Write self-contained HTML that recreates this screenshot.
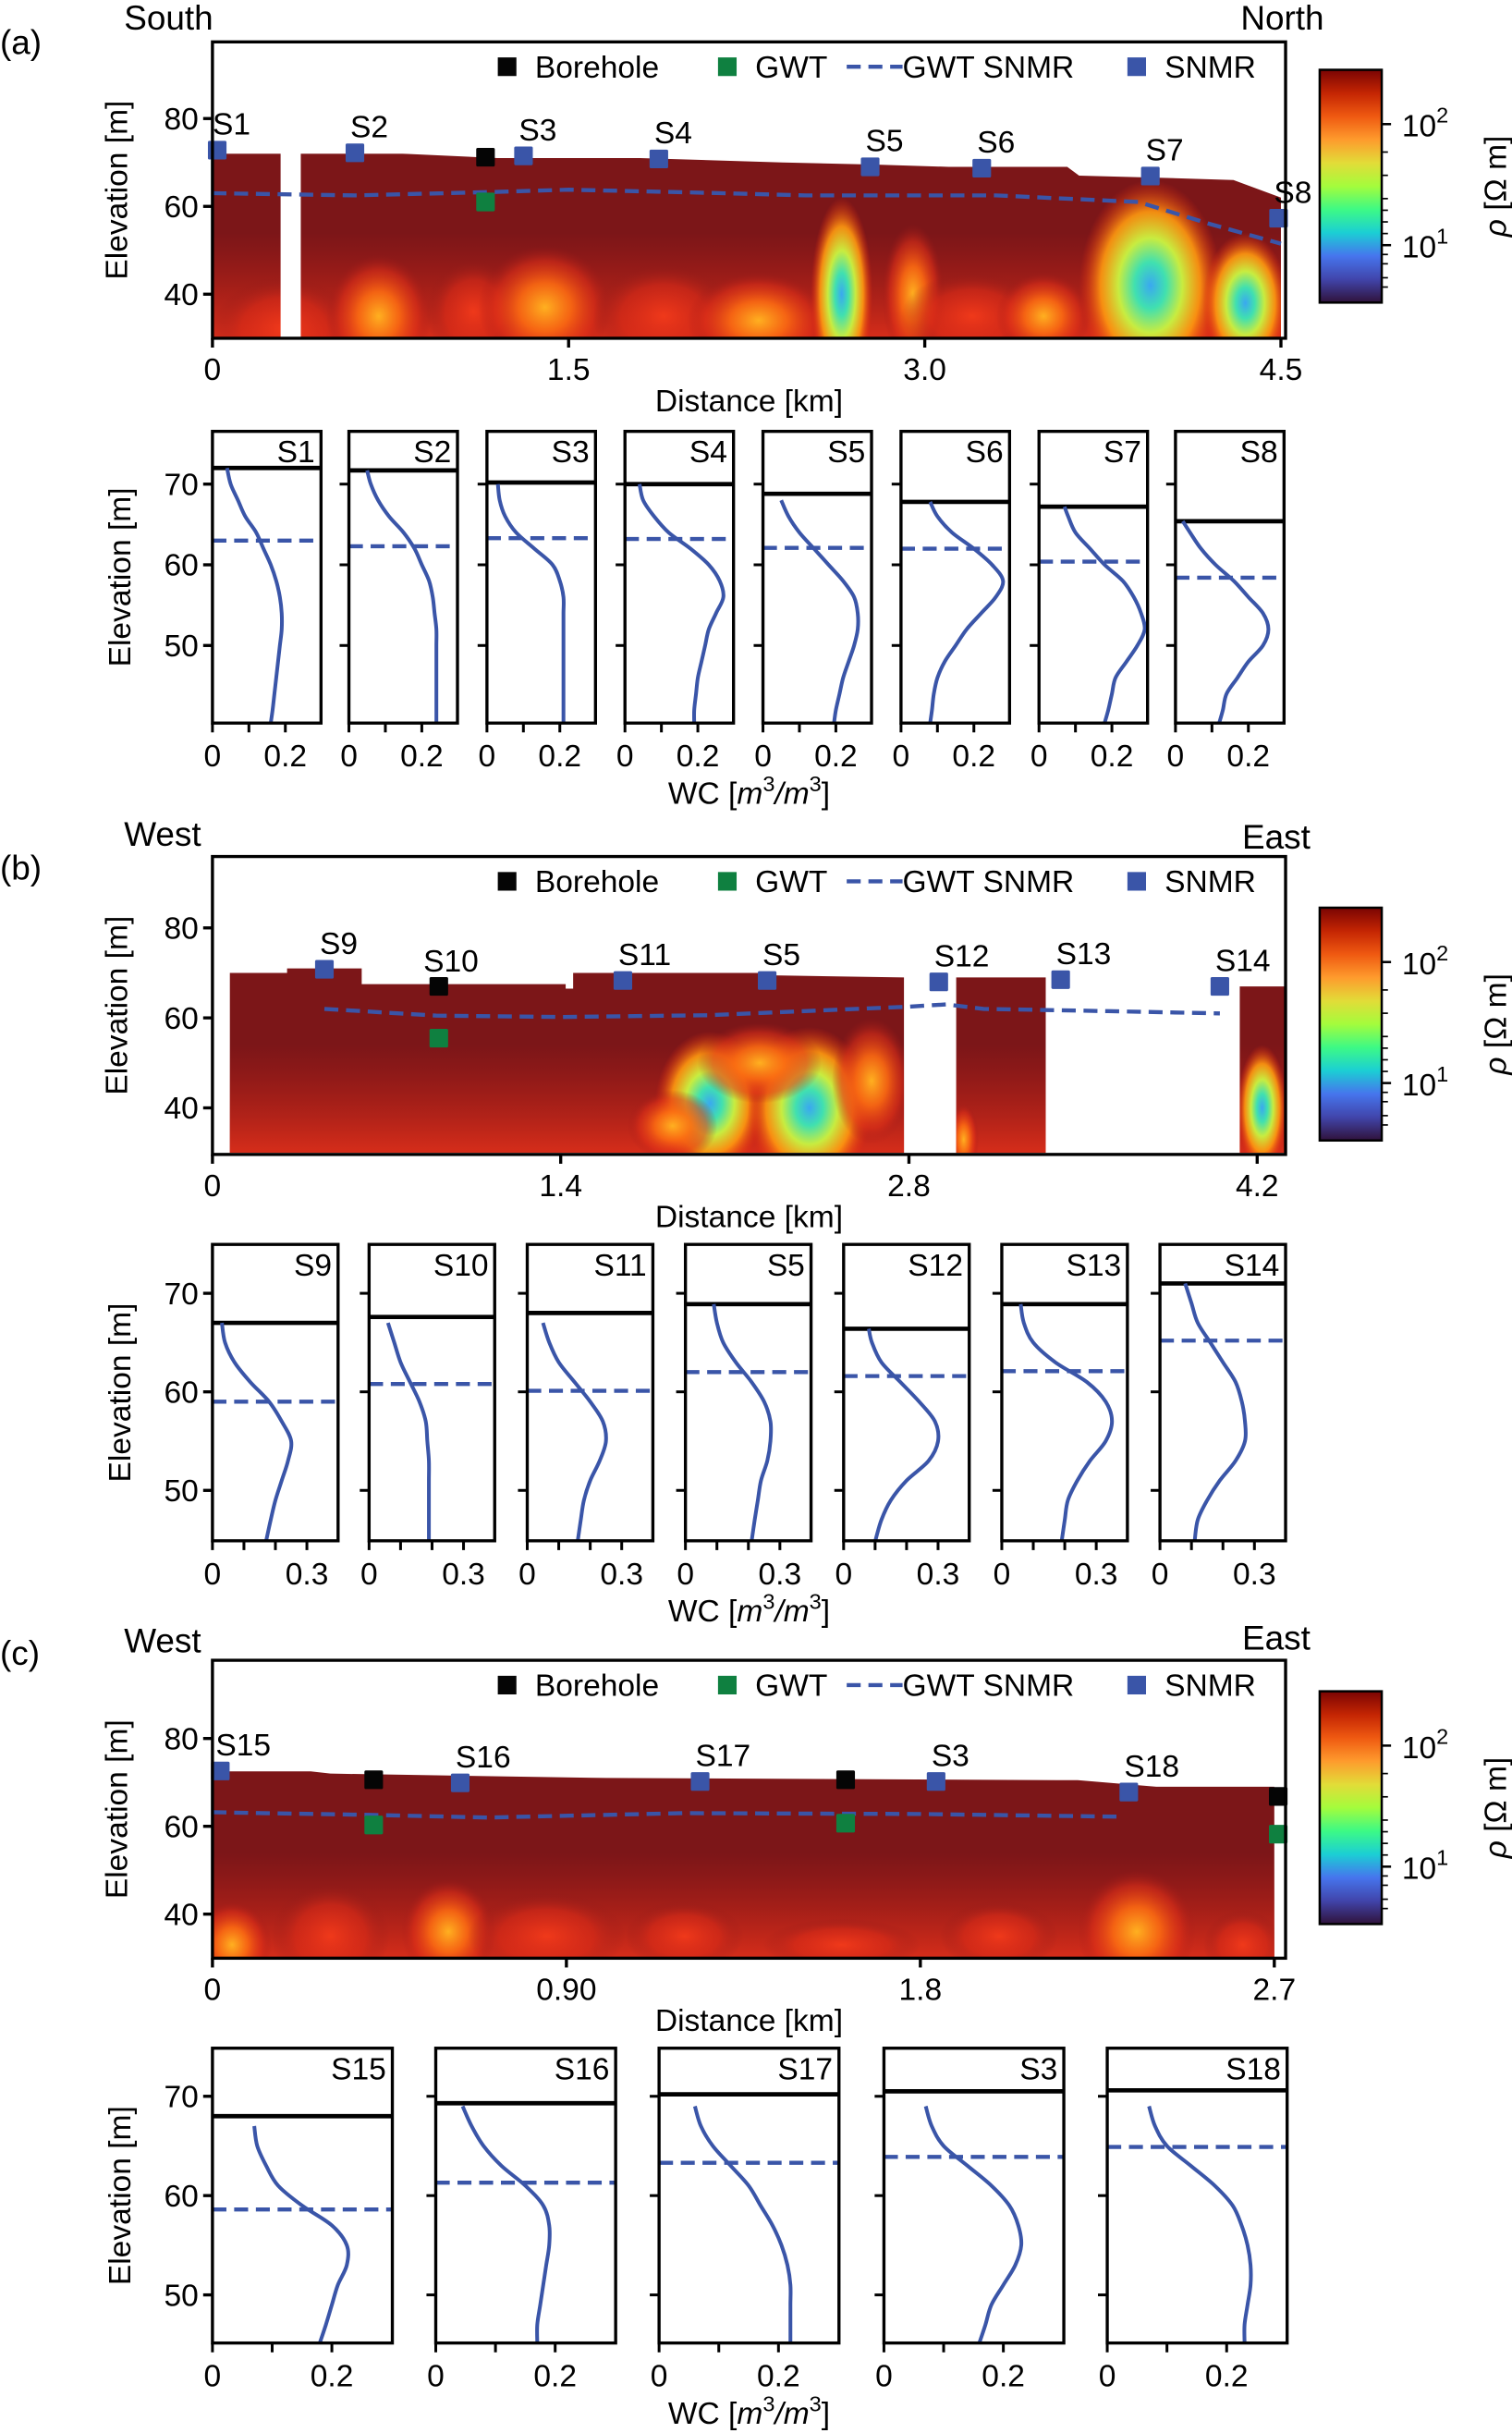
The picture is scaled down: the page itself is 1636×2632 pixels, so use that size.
<!DOCTYPE html>
<html><head><meta charset="utf-8"><style>
html,body{margin:0;padding:0;background:#fff}
svg{display:block;font-family:"Liberation Sans","DejaVu Sans",sans-serif}
</style></head><body>
<svg id="fig" xmlns="http://www.w3.org/2000/svg" width="1636" height="2632" viewBox="0 0 975 1568" preserveAspectRatio="none">
<defs>
<radialGradient id="gr"><stop offset="0" stop-color="#f23a1a" stop-opacity="0.95"/><stop offset="0.6" stop-color="#d82a18" stop-opacity="0.6"/><stop offset="1" stop-color="#8a1a1a" stop-opacity="0"/></radialGradient>
<radialGradient id="go"><stop offset="0" stop-color="#ffb020"/><stop offset="0.4" stop-color="#fb6a12" stop-opacity="0.9"/><stop offset="0.75" stop-color="#e03018" stop-opacity="0.55"/><stop offset="1" stop-color="#a01818" stop-opacity="0"/></radialGradient>
<radialGradient id="gc"><stop offset="0" stop-color="#3aa8f0"/><stop offset="0.22" stop-color="#40e0b0"/><stop offset="0.45" stop-color="#c8ec40"/><stop offset="0.7" stop-color="#ff9a10" stop-opacity="0.9"/><stop offset="1" stop-color="#f02a10" stop-opacity="0"/></radialGradient>
<linearGradient id="band" x1="0" y1="0" x2="0" y2="1"><stop offset="0" stop-color="#c02018" stop-opacity="0"/><stop offset="1" stop-color="#e0301a" stop-opacity="0.9"/></linearGradient>
<linearGradient id="cmap" x1="0" y1="1" x2="0" y2="0">
<stop offset="0" stop-color="#30123b"/><stop offset="0.1" stop-color="#4145ab"/><stop offset="0.2" stop-color="#4675ed"/><stop offset="0.3" stop-color="#1bcfd4"/><stop offset="0.4" stop-color="#3dfa85"/><stop offset="0.5" stop-color="#a4fc3c"/><stop offset="0.6" stop-color="#e2dc38"/><stop offset="0.7" stop-color="#fe9b2d"/><stop offset="0.8" stop-color="#ef5911"/><stop offset="0.9" stop-color="#c42503"/><stop offset="1" stop-color="#7a0403"/>
</linearGradient>
</defs>
</svg>
<script>
// ---------- DATA ----------
const surfA_d=[0,0.8,1.2,1.8,2.4,2.8,3.1,3.6,3.65,4.0,4.3,4.5];
const surfA_e=[72,72,71,71,70,69.5,69,69,67,66.5,66,62];
const gapA=[[0.287,0.372]];
const blobsA=[[0.3,32,0.3,12,'r'],[0.7,35,0.22,14,'o'],[1.1,36,0.2,12,'r'],[1.4,37,0.28,14,'o'],[1.9,35,0.3,12,'r'],[2.3,34,0.3,11,'o'],[2.65,40,0.13,22,'c'],[2.95,40,0.13,16,'o'],[3.2,35,0.3,10,'r'],[3.5,35,0.2,10,'o'],[3.95,42,0.3,24,'c'],[4.35,38,0.18,16,'c']];
const snmrA=[['S1',0.02,72.8],['S2',0.6,72.2],['S3',1.31,71.5],['S4',1.88,70.8],['S5',2.77,69],['S6',3.24,68.7],['S7',3.95,66.9],['S8',4.49,57.3]];
const boreA=[[1.15,71.2]];const gwtA=[[1.15,61]];
const gwtsA_d=[0,0.6,1.2,1.5,2.0,2.5,3.3,3.9,4.2,4.5];
const gwtsA_e=[63,62.5,63.3,63.8,63.2,62.5,62.5,61,56,51.5];

const segsB=[[[0.07,70],[0.3,70],[0.3,71],[0.6,71],[0.6,67.5],[1.42,67.5],[1.42,66.5],[1.45,66.5],[1.45,70],[2.2,70],[2.2,69.5],[2.78,69]],[[2.99,69],[3.35,69]],[[4.13,67],[4.33,67]]];
const blobsB=[[2.0,41,0.22,16,'c'],[2.4,40,0.25,18,'c'],[2.2,50,0.25,9,'o'],[2.65,46,0.16,14,'o'],[1.85,36,0.18,8,'o'],[3.02,33,0.06,8,'o'],[4.22,40,0.1,14,'c']];
const snmrB=[['S9',0.45,70.8],['S11',1.65,68.3],['S5',2.23,68.3],['S12',2.92,68],['S13',3.41,68.5],['S14',4.05,67]];
const boreB=[[0.91,67]];const gwtB=[[0.91,55.5]];
const gwtsB_d=[0.45,0.9,1.4,2.0,2.8,2.95,3.1,3.6,4.05];
const gwtsB_e=[62,60.5,60.2,60.6,62.5,63,62,61.5,61];

const surfC_d=[0,0.25,0.3,1.0,2.2,2.4,2.7];
const surfC_e=[72.5,72.5,72,71,70.5,69,69];
const blobsC=[[0.05,33,0.1,10,'o'],[0.3,35,0.15,12,'r'],[0.6,36,0.12,12,'o'],[0.85,35,0.2,10,'r'],[1.2,35,0.15,8,'r'],[1.6,33,0.2,6,'r'],[2.0,35,0.15,8,'r'],[2.35,36,0.15,14,'o'],[2.62,33,0.1,8,'r']];
const snmrC=[['S15',0.02,72.6],['S16',0.63,69.9],['S17',1.24,70.2],['S3',1.84,70.2],['S18',2.33,67.8]];
const boreC=[[0.41,70.6],[1.61,70.6],[2.71,66.8]];const gwtC=[[0.41,60.3],[1.61,60.7],[2.71,58.2]];
const gwtsC_d=[0,0.4,0.7,1.2,1.8,2.3];
const gwtsC_e=[63.2,62.6,62,63,62.8,62.2];

const elevA=[72,70,68,66,64,62,60,58,56,54,52,50,48,46,44,42,40.4];
const namesA=['S1','S2','S3','S4','S5','S6','S7','S8'];
const surfPA=[72,71.7,70.2,70,68.8,67.8,67.2,65.4];
const gwtPA=[63,62.3,63.3,63.2,62.1,62,60.4,58.4];
const wcA=[
[.04,.05,.07,.09,.12,.14,.16,.175,.185,.19,.19,.185,.18,.175,.17,.165,.16],
[.05,.06,.08,.11,.15,.18,.2,.22,.23,.235,.24,.24,.24,.24,.24,.24,.24],
[null,.03,.035,.05,.08,.13,.18,.2,.21,.21,.21,.21,.21,.21,.21,.21,.21],
[null,.04,.05,.08,.12,.18,.23,.26,.27,.25,.23,.22,.21,.2,.195,.19,.19],
[null,null,.05,.07,.1,.14,.18,.22,.25,.26,.26,.25,.235,.22,.21,.2,.195],
[null,null,.08,.1,.14,.2,.25,.28,.26,.22,.18,.15,.12,.1,.09,.085,.08],
[null,null,.07,.08,.1,.14,.18,.23,.26,.28,.29,.27,.24,.21,.2,.19,.18],
[null,null,null,.02,.04,.07,.11,.16,.2,.24,.255,.24,.2,.17,.14,.13,.12]];

const elevB=[71,69,67,65,63,61,59,57,55,53,51,49,47,44.8];
const namesB=['S9','S10','S11','S5','S12','S13','S14'];
const surfPB=[67,67.6,68,68.9,66.4,68.9,71];
const gwtPB=[59,60.8,60.1,62,61.6,62.1,65.2];
const wcB=[
[null,null,.03,.04,.07,.12,.18,.22,.25,.24,.22,.2,.185,.17],
[null,null,.06,.08,.1,.13,.16,.18,.185,.19,.19,.19,.19,.19],
[null,null,.05,.07,.1,.15,.2,.24,.25,.23,.2,.18,.17,.16],
[null,.09,.1,.12,.16,.21,.25,.27,.27,.26,.24,.23,.22,.21],
[null,null,.08,.09,.12,.18,.24,.29,.3,.27,.2,.15,.12,.1],
[null,.06,.07,.1,.17,.27,.33,.35,.33,.28,.24,.21,.2,.19],
[.08,.1,.12,.16,.2,.24,.26,.27,.27,.24,.19,.15,.12,.11]];

const elevC=[71,69,67,65,63,61,59,57,55,53,51,49,47,45.2];
const namesC=['S15','S16','S17','S3','S18'];
const surfPC=[68,69.3,70.2,70.5,70.6];
const gwtPC=[58.6,61.3,63.3,63.9,64.9];
const wcC=[
[null,null,.07,.075,.09,.11,.15,.2,.225,.225,.21,.2,.19,.18],
[null,.045,.06,.08,.11,.15,.18,.19,.19,.185,.18,.175,.17,.17],
[null,.06,.07,.09,.12,.15,.17,.19,.205,.215,.22,.22,.22,.22],
[null,.07,.08,.1,.14,.18,.21,.225,.23,.22,.2,.18,.17,.16],
[null,.07,.08,.1,.14,.18,.21,.225,.235,.24,.24,.235,.23,.23]];

// ---------- helpers ----------
const NS='http://www.w3.org/2000/svg';
const fig=document.getElementById('fig');
function mk(tag,attrs,parent){const e=document.createElementNS(NS,tag);for(const k in attrs)e.setAttribute(k,attrs[k]);(parent||fig).appendChild(e);return e;}
function txt(s,x,y,size,anchor,parent,extra){const t=mk('text',Object.assign({x:x,y:y,'font-size':size,'text-anchor':anchor||'start',fill:'#000'},extra||{}),parent);t.textContent=s;return t;}

function mainPanel(o){
  const g=mk('g',{});
  
  
  const X=o.X,Y=o.Y;
  const cid='clip'+o.id;
  const cp=mk('clipPath',{id:cid},g);
  o.segs.forEach(seg=>{
    let d='M'+X(seg[0][0])+','+Y(30);
    seg.forEach(p=>{d+=' L'+X(p[0])+','+Y(p[1]);});
    d+=' L'+X(seg[seg.length-1][0])+','+Y(30)+' Z';
    mk('path',{d:d},cp);
  });
  const hg=mk('g',{'clip-path':'url(#'+cid+')'},g);
  
  
  mk('rect',{x:o.x0,y:o.y0,width:o.x1-o.x0,height:o.y1-o.y0,fill:'#7c1618'},hg);
  mk('rect',{x:o.x0,y:Y(54),width:o.x1-o.x0,height:Y(30)-Y(54),fill:'url(#band)'},hg);
  o.blobs.forEach(b=>{
    const e=mk('ellipse',{cx:X(b[0]),cy:Y(b[1]),rx:X(b[2])-X(0),ry:Y(0)-Y(b[3]),fill:'url(#g'+b[4]+')'},hg);
    
    
  });
  (o.gaps||[]).forEach(gp=>{mk('rect',{x:X(gp[0]),y:o.y0,width:X(gp[1])-X(gp[0]),height:o.y1-o.y0,fill:'#fff'},g);});
  let d='';o.gd.forEach((v,i)=>{d+=(i?' L':'M')+X(v)+','+Y(o.ge[i]);});
  const gl=mk('path',{d:d,fill:'none',stroke:'#3a55a8','stroke-width':2.6,'stroke-dasharray':'9,5'},g);
  
  
  o.bore.forEach(b=>{const r=mk('rect',{x:X(b[0])-6,y:Y(b[1])-6,width:12,height:12,fill:'#050505',rx:1},g);
    
    });
  o.gwt.forEach(b=>{const r=mk('rect',{x:X(b[0])-6,y:Y(b[1])-6,width:12,height:12,fill:'#0f8040',rx:1},g);
    
    });
  o.snmr.forEach(s=>{const r=mk('rect',{x:X(s[1])-6,y:Y(s[2])-6,width:12,height:12,fill:'#3a55a8',rx:1},g);
    
    
    const t=txt(s[0],X(s[1])-3,Y(s[2])-10,20,'start',g);
    
    });
  const fr=mk('rect',{x:o.x0,y:o.y0,width:o.x1-o.x0,height:o.y1-o.y0,fill:'none',stroke:'#000','stroke-width':2},g);
  
  
  o.yt.forEach(v=>{mk('line',{x1:o.x0-6,x2:o.x0,y1:Y(v),y2:Y(v),stroke:'#000','stroke-width':2},g);
    const t=txt(String(v),o.x0-9,Y(v)+7,20,'end',g);
    
    });
  o.xt.forEach((v,i)=>{mk('line',{x1:X(v),x2:X(v),y1:o.y1,y2:o.y1+6,stroke:'#000','stroke-width':2},g);
    const t=txt(o.xl[i],X(v),o.y1+27,20,'middle',g);
    
    });
  const xl=txt('Distance [km]',483,o.y1+47,20,'middle',g);
  
  
  const yl=txt('Elevation [m]',0,0,20,'middle',g,{transform:'translate(82,'+((o.y0+o.y1)/2)+') rotate(-90)'});
  
  
  const lg=mk('g',{},g);
  
  
  const ly=o.y0+16;
  mk('rect',{x:321,y:ly-6,width:12,height:12,fill:'#050505'},lg);txt('Borehole',345,ly+7,20,'start',lg);
  mk('rect',{x:463,y:ly-6,width:12,height:12,fill:'#0f8040'},lg);txt('GWT',487,ly+7,20,'start',lg);
  mk('line',{x1:546,x2:582,y1:ly,y2:ly,stroke:'#3a55a8','stroke-width':2.6,'stroke-dasharray':'9,5'},lg);txt('GWT SNMR',582,ly+7,20,'start',lg);
  mk('rect',{x:727,y:ly-6,width:12,height:12,fill:'#3a55a8'},lg);txt('SNMR',751,ly+7,20,'start',lg);
  const cb=mk('g',{},g);
  
  
  mk('rect',{x:851,y:o.cb,width:40,height:150,fill:'url(#cmap)',stroke:'#000','stroke-width':1.5},cb);
  [[o.cb+35,'2'],[o.cb+113,'1']].forEach(p=>{mk('line',{x1:891,x2:897,y1:p[0],y2:p[0],stroke:'#000','stroke-width':1.5},cb);
    const t=txt('10',904,p[0]+8,20,'start',cb);const s=mk('tspan',{dy:-9,'font-size':14},t);s.textContent=p[1];});
  [0.1,0.2,0.35,0.45,0.55,0.6,0.65,0.7,0.8,0.9].forEach(f=>{const yy=o.cb+113+(f<0.5?f*60:-(f-0.5)*150);mk('line',{x1:891,x2:895,y1:yy,y2:yy,stroke:'#000','stroke-width':1},cb);});
  const rl=txt('',0,0,20,'middle',cb,{transform:'translate(971,'+(o.cb+75)+') rotate(-90)'});
  const r1=mk('tspan',{'font-style':'italic'},rl);r1.textContent='ρ';
  const r2=mk('tspan',{},rl);r2.textContent=' [Ω m]';
}

function profiles(o){
  const g=mk('g',{});
  
  
  o.names.forEach((nm,i)=>{
    const x0=o.x0[i],x1=x0+o.w;
    const X=v=>x0+v*o.sx, Y=o.Y;
    const pg=mk('g',{},g);
    
    
    const s=mk('line',{x1:x0,x2:x1,y1:Y(o.surf[i]),y2:Y(o.surf[i]),stroke:'#000','stroke-width':2.8},pg);
    
    
    const gw=mk('line',{x1:x0,x2:x1,y1:Y(o.gwtp[i]),y2:Y(o.gwtp[i]),stroke:'#3a55a8','stroke-width':2.6,'stroke-dasharray':'9,5'},pg);
    
    
    let pts=[];o.wc[i].forEach((v,j)=>{if(v!==null)pts.push([X(v),Y(Math.min(o.elev[j],o.surf[i]))]);});
    let d='M'+pts[0][0]+','+pts[0][1];
    for(let k=0;k<pts.length-1;k++){const p0=pts[Math.max(0,k-1)],p1=pts[k],p2=pts[k+1],p3=pts[Math.min(pts.length-1,k+2)];
      d+=' C'+(p1[0]+(p2[0]-p0[0])/6)+','+(p1[1]+(p2[1]-p0[1])/6)+' '+(p2[0]-(p3[0]-p1[0])/6)+','+(p2[1]-(p3[1]-p1[1])/6)+' '+p2[0]+','+p2[1];}
    const c=mk('path',{d:d,fill:'none',stroke:'#3a55a8','stroke-width':2.4},pg);
    
    
    mk('rect',{x:x0,y:o.y0,width:o.w,height:o.y1-o.y0,fill:'none',stroke:'#000','stroke-width':2},pg);
    const t=txt(nm,x1-4,o.y0+20,20,'end',pg);
    
    
    o.xt.forEach(v=>{mk('line',{x1:X(v),x2:X(v),y1:o.y1,y2:o.y1+6,stroke:'#000','stroke-width':1.8},pg);});
    o.xlab.forEach(p=>{const tt=txt(p[1],X(p[0]),o.y1+28,20,'middle',pg);
      
      });
    if(i>0){o.yt.forEach(v=>{mk('line',{x1:x0-6,x2:x0,y1:Y(v),y2:Y(v),stroke:'#000','stroke-width':1.8},pg);});}
  });
  o.yt.forEach(v=>{mk('line',{x1:o.x0[0]-6,x2:o.x0[0],y1:o.Y(v),y2:o.Y(v),stroke:'#000','stroke-width':2},g);
    const t=txt(String(v),o.x0[0]-9,o.Y(v)+7,20,'end',g);
    
    });
  const yl=txt('Elevation [m]',0,0,20,'middle',g,{transform:'translate(84,'+((o.y0+o.y1)/2)+') rotate(-90)'});
  
  
  const xl=txt('WC [',483,o.y1+52,20,'middle',g);
  
  
  const a=mk('tspan',{'font-style':'italic'},xl);a.textContent='m';
  const b=mk('tspan',{dy:-8,'font-size':14},xl);b.textContent='3';
  const c=mk('tspan',{dy:8,'font-style':'italic'},xl);c.textContent='/m';
  const d2=mk('tspan',{dy:-8,'font-size':14},xl);d2.textContent='3';
  const e=mk('tspan',{dy:8},xl);e.textContent=']';
}

[['(a)',0,35],['(b)',0,567],['(c)',0,1073]].forEach(p=>{const t=txt(p[0],p[1],p[2],22,'start');
  
  });
[['South',80,19],['North',800,19],['West',80,545],['East',801,547],['West',80,1065],['East',801,1063]].forEach(p=>{const t=txt(p[0],p[1],p[2],22,'start');
  
  });

mainPanel({id:'a',x0:137,x1:829,y0:27,y1:218,X:d=>137+d*(689/4.5),Y:e=>133-(e-60)*2.83,
  segs:[surfA_d.map((d,i)=>[d,surfA_e[i]])],gaps:gapA,blobs:blobsA,snmr:snmrA,bore:boreA,gwt:gwtA,gd:gwtsA_d,ge:gwtsA_e,
  yt:[40,60,80],xt:[0,1.5,3.0,4.5],xl:['0','1.5','3.0','4.5'],cb:45});
mainPanel({id:'b',x0:137,x1:829,y0:552,y1:744,X:d=>137+d*160.4,Y:e=>656-(e-60)*2.9,
  segs:segsB,gaps:[],blobs:blobsB,snmr:snmrB,bore:boreB,gwt:gwtB,gd:gwtsB_d,ge:gwtsB_e,
  yt:[40,60,80],xt:[0,1.4,2.8,4.2],xl:['0','1.4','2.8','4.2'],cb:585});
(function(){const t=txt('S10',273,626,20,'start');

})();
mainPanel({id:'c',x0:137,x1:829,y0:1070,y1:1262,X:d=>137+d*253.6,Y:e=>1177-(e-60)*2.83,
  segs:[surfC_d.map((d,i)=>[d,surfC_e[i]])],gaps:[],blobs:blobsC,snmr:snmrC,bore:boreC,gwt:gwtC,gd:gwtsC_d,ge:gwtsC_e,
  yt:[40,60,80],xt:[0,0.9,1.8,2.7],xl:['0','0.90','1.8','2.7'],cb:1090});

profiles({id:'a',names:namesA,x0:[137,225,314,403,492,581,670,758],w:70,sx:235,y0:278,y1:466,Y:e=>364-(e-60)*5.2,
  surf:surfPA,gwtp:gwtPA,elev:elevA,wc:wcA,yt:[50,60,70],xt:[0,0.1,0.2],xlab:[[0,'0'],[0.2,'0.2']]});
profiles({id:'b',names:namesB,x0:[137,238,340,442,544,646,748],w:81,sx:203,y0:802,y1:993,Y:e=>897-(e-60)*6.35,
  surf:surfPB,gwtp:gwtPB,elev:elevB,wc:wcB,yt:[50,60,70],xt:[0,0.1,0.2,0.3],xlab:[[0,'0'],[0.3,'0.3']]});
profiles({id:'c',names:namesC,x0:[137,281,425,570,714],w:116,sx:385,y0:1320,y1:1510,Y:e=>1415-(e-60)*6.4,
  surf:surfPC,gwtp:gwtPC,elev:elevC,wc:wcC,yt:[50,60,70],xt:[0,0.1,0.2],xlab:[[0,'0'],[0.2,'0.2']]});
</script>
</body></html>
